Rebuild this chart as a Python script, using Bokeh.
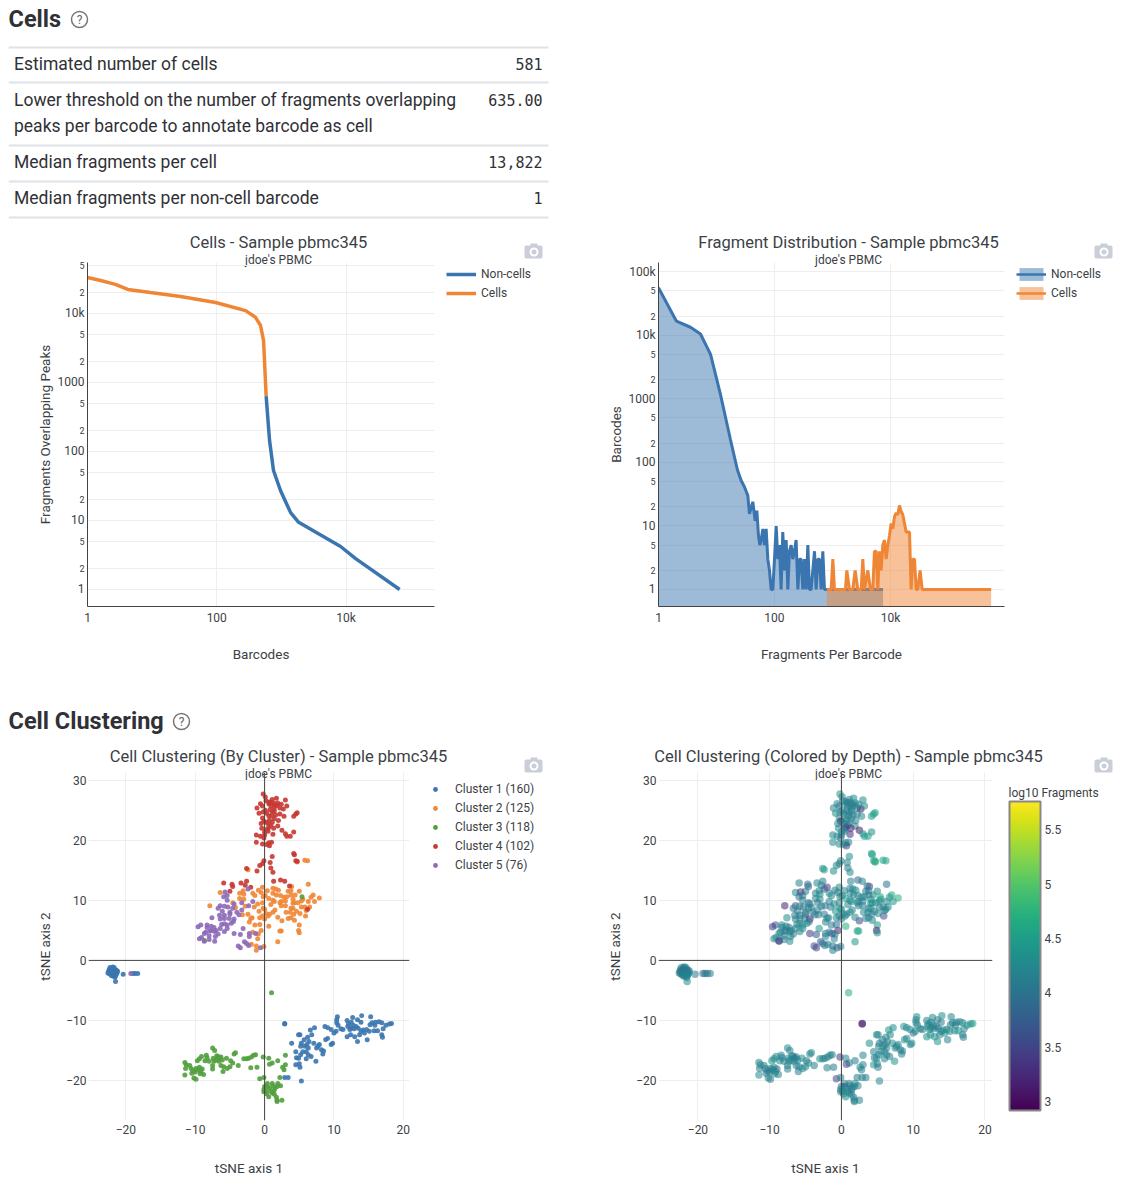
from bokeh.plotting import figure
from bokeh.layouts import column, row
from bokeh.models import (Range1d, FixedTicker, LogAxis, ColumnDataSource, Legend, LegendItem,
                          Span, ColorBar, LinearColorMapper)
from bokeh.palettes import Viridis256
from bokeh.embed import file_html
from bokeh.resources import INLINE

FONT = "Roboto"
TXT = "#3c3f46"
BLUE, ORANGE, GREEN, RED, PURPLE = "#3B75AF", "#EF8636", "#519E3E", "#C53932", "#8D69B8"
NAN = float("nan")

# ---- table
metric_lines = [["Estimated number of cells"],
                ["Lower threshold on the number of fragments overlapping",
                 "peaks per barcode to annotate barcode as cell"],
                ["Median fragments per cell"],
                ["Median fragments per non-cell barcode"]]
metric_values = ["581", "635.00", "13,822", "1"]

# ---- barcode rank plot
rank_cells_x = [1, 1.6, 2.7, 4.2, 9.4, 27.5, 96, 279, 398, 476, 530, 581]
rank_cells_y = [33250, 30000, 26400, 22300, 20100, 17600, 14400, 11000, 8800, 6700, 4050, 635]
rank_non_x = [581, 656, 755, 972, 1390, 1850, 8250, 14100, 67600]
rank_non_y = [635, 144, 53, 27, 13, 9.4, 4.2, 2.8, 1]

# ---- fragment histogram
hist_non_x = [1, 2.04, 3.56, 5.3, 7.9, 11.7, 17.4, 23, 26.6, 30.4, 34.7, 37, 42.3, 46.4, 49.6, 53, 55.9, 58.9, 63,
              67.2, 71.8, 76.7, 82, 87.6, 93.6, 100, 107, 114, 122, 130, 139, 149, 159, 170, 181, 194, 207, 221,
              236, 253, 270, 288, 308, 329, 352, 376, 401, 429, 458, 490, 523, 559, 597, 638, 681, 728, 798, 7450]
hist_non_y = [56000, 16700, 13400, 10500, 5000, 1175, 229, 76, 52, 41, 30, 15.5, 24, 12, 17.5, 7, 5, 6, 9,
              5, 9, 3, 2, 1, 1, 3, 10, 3, 5, 1, 8, 2, 6, 1, 4, 5, 3, 4,
              6, 1, 3, 3, 1, 3, 1, 5, 1, 1, 2, 4, 1, 3, 3, 1, 4, 1, 1, 1]
hist_cell_x = [798, 948, 1014, 1082, 1675, 1766, 1963, 2242, 2460, 2735, 3120, 3334, 3564, 4064, 4519, 4955, 5297,
               5662, 6052, 6457, 6902, 7379, 7889, 8414, 8995, 9616, 10260, 10970, 11720, 12530, 13370, 14290,
               15280, 16330, 17420, 18620, 21280, 22700, 24270, 25940, 27730, 29580, 32430, 35160, 544500]
hist_cell_y = [1, 1, 3, 1, 1, 2, 1, 1, 2, 1, 1, 3, 1, 2, 1, 1, 4,
               4, 1, 4, 2, 5, 6, 3, 5, 7, 11, 9, 14, 16, 15, 21,
               17, 15, 11, 8, 8, 1, 3, 3, 1, 1, 2, 1, 1]

# ---- tSNE points: (axis 1, axis 2, log10 fragments)
cluster1_points = [
 (-21.9,-1.9,4.2),(-22.1,-1.6,4.1),(-21.7,-1.5,4.2),(-22.3,-1.9,4.0),(-21.5,-1.9,4.3),(-22.0,-2.2,4.1),(-21.8,-2.4,4.2),
 (-22.4,-1.5,4.1),(-21.4,-1.6,4.0),(-22.2,-2.3,4.2),(-21.6,-2.3,4.1),(-22.5,-1.8,4.1),(-21.3,-2.1,4.2),(-22.0,-1.3,4.0),
 (-21.7,-1.2,4.1),(-22.3,-1.2,4.2),(-21.9,-2.6,4.1),(-22.1,-2.0,4.0),(-21.8,-1.8,4.1),(-22.2,-1.7,4.2),(-21.6,-1.7,4.0),
 (-21.4,-2.3,4.1),(-22.4,-2.2,4.2),(-21.2,-1.8,4.1),(-22.6,-2.1,4.0),(-21.9,-1.1,4.1),(-22.1,-2.5,4.2),(-21.5,-2.6,4.1),
 (-22.0,-1.7,4.0),(-21.8,-2.1,4.2),(-20.4,-2.3,4.1),(-21.5,-3.5,4.3),(-21.6,-2.8,4.2),(-19.0,-2.2,4.0),(-18.7,-2.2,4.2),(-18.3,-2.2,4.1),
 (2.9,-10.5,3.1),(2.9,-10.6,3.2),(3.9,-13.8,4.3),(4.5,-15.2,4.2),(4.6,-16.2,4.1),(4.9,-16.3,4.3),(5.2,-15.7,4.2),(4.5,-17.4,4.4),
 (5.0,-17.2,4.1),(5.1,-17.8,4.2),(4.9,-12.4,4.3),(5.1,-12.4,4.2),(5.7,-13.2,4.1),(6.2,-12.8,4.3),(6.6,-11.6,4.4),(6.8,-12.4,4.2),
 (7.2,-11.2,4.3),(5.3,-13.8,4.1),(5.2,-14.3,4.2),(5.8,-14.3,4.3),(6.3,-14.6,4.2),(6.0,-15.2,4.1),(5.5,-15.2,4.2),(6.3,-15.7,4.3),
 (6.0,-16.4,4.2),(6.7,-16.0,4.1),(7.1,-13.8,4.3),(7.5,-14.6,4.2),(7.7,-14.3,4.1),(7.9,-14.0,4.3),(7.4,-16.8,4.4),(8.2,-14.9,4.2),
 (8.5,-15.1,4.1),(8.4,-15.6,4.2),(8.8,-13.2,4.3),(9.1,-13.0,4.2),(9.6,-14.0,4.1),(9.8,-13.8,4.3),(8.7,-11.0,4.4),(9.1,-11.2,4.2),
 (9.6,-11.5,4.3),(10.0,-12.1,4.1),(10.3,-11.8,4.2),(10.5,-9.4,4.3),(10.4,-9.9,4.2),(10.4,-10.4,4.1),(10.6,-10.8,4.3),(11.0,-11.4,4.2),
 (11.3,-11.5,4.1),(11.9,-12.7,4.3),(12.4,-12.4,4.4),(11.9,-10.0,4.2),(12.1,-10.6,4.1),(12.5,-10.3,4.2),(12.7,-9.5,4.3),(13.4,-9.9,4.2),
 (13.9,-10.3,4.1),(14.0,-9.2,4.3),(15.3,-9.4,4.2),(12.5,-11.2,4.1),(12.9,-11.4,4.3),(12.3,-11.5,4.2),(13.2,-11.0,4.1),(13.0,-12.7,4.3),
 (13.4,-13.5,4.4),(13.7,-12.4,4.2),(13.9,-11.8,4.1),(14.4,-12.1,4.3),(14.8,-13.2,4.2),(14.7,-11.5,4.1),(15.1,-11.8,4.3),(15.5,-10.4,4.2),
 (15.9,-10.8,4.1),(15.8,-11.7,4.3),(16.3,-11.7,4.4),(16.5,-10.2,4.2),(16.9,-10.4,4.3),(17.1,-11.4,4.2),(16.9,-12.4,4.1),(17.0,-12.8,4.2),
 (17.5,-10.8,4.3),(18.0,-10.6,4.4),(18.3,-10.5,4.5),(2.9,-19.5,4.2),(3.4,-19.5,4.1),(5.3,-20.1,4.2),
 (12.8,-10.8,4.2),(13.5,-11.3,4.1),(12.0,-11.0,4.3),(15.2,-10.7,4.2),(16.0,-10.3,4.1),(14.2,-11.6,4.3),(6.4,-13.5,4.2),(6.1,-14.0,4.1),
]
cluster2_points = [
 (-2.4,15.1,4.5),(5.8,16.7,4.6),(6.2,16.6,4.6),(4.7,16.4,4.5),(6.3,12.7,4.0),(-6.4,11.3,4.3),(-3.6,11.2,4.2),(-3.1,11.6,4.2),
 (-3.0,11.0,4.3),(-0.9,11.7,4.1),(-0.3,12.2,4.3),(-0.5,11.3,4.2),(-1.7,11.2,4.3),(0.1,10.8,4.1),(-0.2,10.6,4.2),(0.4,11.6,4.3),
 (1.2,12.0,4.1),(1.6,11.9,4.2),(2.0,11.7,4.3),(1.2,11.2,4.2),(1.7,10.9,4.1),(2.3,10.8,4.3),(3.4,11.5,4.0),(3.9,12.3,3.4),
 (3.8,11.6,4.2),(5.0,11.5,4.3),(4.4,10.9,4.2),(3.8,10.9,4.1),(7.0,10.9,4.6),(6.7,10.5,4.4),(7.9,10.4,4.7),(7.2,9.8,4.4),
 (6.3,9.8,4.3),(5.5,10.2,4.3),(4.1,10.2,4.4),(4.3,9.6,4.5),(3.0,9.9,4.2),(2.4,9.8,4.1),(2.4,9.1,4.2),(1.4,9.8,4.4),
 (0.6,10.3,4.5),(1.2,10.0,4.3),(-3.6,10.3,4.2),(-3.0,10.2,4.3),(-4.6,9.6,4.1),(-4.2,8.8,4.2),(-7.9,9.1,3.2),(-2.8,9.0,4.2),
 (-1.0,9.4,4.3),(-0.3,9.6,4.2),(-0.2,8.7,4.4),(0.0,8.5,4.3),(1.5,8.4,4.2),(1.2,8.0,4.3),(0.7,7.7,4.1),(0.5,7.4,4.2),
 (-0.3,7.4,4.2),(-0.7,7.1,4.3),(0.0,6.9,4.1),(-2.4,7.7,4.0),(-3.2,7.6,4.2),(-1.8,7.1,4.1),(-2.0,7.0,4.2),(-1.4,5.9,4.1),
 (-0.7,6.0,4.0),(0.6,5.7,4.7),(2.5,6.6,3.5),(3.4,7.0,4.2),(3.8,7.1,4.1),(4.3,6.7,4.2),(3.1,8.0,4.3),(3.7,8.0,4.1),
 (4.2,7.7,4.2),(5.1,7.8,4.3),(5.9,7.4,3.6),(3.8,8.7,4.2),(4.1,8.7,4.3),(5.3,8.9,4.2),(5.8,8.9,4.1),(6.5,8.9,4.3),
 (5.0,5.9,4.4),(4.9,5.0,3.1),(5.0,4.6,4.4),(2.2,4.9,4.6),(2.4,4.9,4.6),(1.9,3.1,4.4),(-0.5,5.0,3.2),(-1.7,4.7,4.2),
 (-0.9,4.4,4.3),(-1.0,3.6,4.2),(-1.9,2.7,4.1),(-1.2,2.4,4.0),(-1.2,1.7,4.2),(-0.1,2.3,4.3),(2.2,9.6,4.2),(4.8,9.6,4.3),
 (5.3,9.9,4.2),(3.0,9.1,4.1),(4.1,9.5,4.3),(-1.4,10.8,4.2),(0.9,9.3,4.2),(2.8,10.5,4.1),(-0.8,8.2,4.3),(1.9,7.2,4.2),
 (-1.5,8.9,4.1),(3.2,10.6,4.2),(4.6,8.2,4.1),(-2.2,6.4,4.2),(0.2,7.8,4.3),(6.0,8.3,4.2),
]
cluster3_points = [
 (1.0,-5.4,4.7),(-11.5,-17.0,4.2),(-11.3,-17.4,4.3),(-11.4,-18.0,4.1),(-11.5,-19.1,4.3),(-10.8,-17.5,4.2),(-10.6,-18.0,4.1),(-10.3,-18.4,4.2),
 (-10.5,-18.8,4.0),(-10.2,-19.6,4.3),(-9.9,-19.8,4.1),(-9.7,-16.7,4.4),(-9.4,-16.4,4.2),(-9.1,-16.0,4.3),(-9.9,-18.0,4.2),(-9.6,-18.2,4.1),
 (-9.4,-17.8,4.2),(-9.0,-18.1,4.0),(-9.2,-18.5,4.1),(-8.8,-19.0,4.2),(-8.6,-16.7,4.3),(-8.3,-16.2,4.2),(-8.4,-15.8,4.1),(-7.5,-14.6,4.3),
 (-7.2,-15.0,4.2),(-7.4,-16.3,4.1),(-7.0,-16.6,4.2),(-7.3,-16.8,4.3),(-7.5,-17.5,4.1),(-7.5,-18.1,4.2),(-6.7,-16.0,4.3),(-6.5,-16.3,4.1),
 (-6.3,-16.1,4.0),(-6.6,-16.8,4.2),(-6.3,-17.5,4.1),(-5.9,-17.7,4.2),(-5.5,-16.3,4.3),(-6.0,-18.5,4.1),(-5.4,-18.0,4.2),(-5.0,-17.7,4.3),
 (-4.9,-16.7,4.1),(-4.6,-17.1,4.2),(-4.4,-15.6,4.2),(-4.2,-15.4,4.3),(-3.8,-17.5,4.1),(-3.0,-16.4,4.3),(-2.6,-16.4,4.2),(-2.3,-16.3,4.1),
 (-1.9,-16.1,4.2),(-1.6,-15.8,4.3),(-1.3,-15.7,4.1),(-2.0,-17.9,4.2),(-1.1,-17.8,4.1),(-0.2,-16.1,3.4),(0.6,-16.3,4.2),(1.9,-16.7,4.1),
 (1.1,-17.1,4.3),(0.7,-17.3,3.5),(3.0,-17.4,4.2),(2.6,-17.8,4.3),(2.8,-18.2,4.1),(3.0,-15.8,4.2),(-0.7,-19.7,3.5),(-0.1,-19.5,4.2),
 (2.2,-19.5,4.1),(0.4,-20.5,4.2),(1.1,-20.5,4.1),(1.9,-20.5,4.3),(2.3,-20.9,4.2),(1.8,-21.0,4.1),(0.0,-21.0,4.2),(0.4,-21.0,3.6),
 (0.7,-21.3,4.2),(1.2,-20.9,4.1),(-0.1,-21.5,4.2),(0.2,-21.8,4.3),(1.4,-21.6,4.1),(-0.1,-21.9,4.2),(0.6,-22.7,4.3),(1.1,-22.1,4.2),
 (1.4,-22.3,4.1),(1.7,-22.8,4.2),(1.8,-23.3,4.3),(2.5,-23.3,4.2),(1.8,-23.5,4.1),(-8.7,3.3,3.3),(5.4,10.6,4.7),
 (-8.0,-16.8,4.2),(-6.9,-15.9,4.1),(-6.1,-16.6,4.2),(-10.0,-18.6,4.1),(-9.3,-18.9,4.3),(0.9,-21.8,4.2),(1.5,-21.2,4.1),(0.3,-22.2,4.2),
]
cluster4_points = [
 (-0.2,27.7,4.4),(0.1,27.2,4.2),(1.7,27.0,4.3),(3.0,26.7,4.3),(1.1,26.8,4.2),(0.7,26.4,4.1),(-0.6,26.1,4.2),(-0.3,25.7,4.1),
 (0.6,26.1,4.2),(1.3,26.2,4.1),(1.9,26.2,4.3),(-1.1,25.4,4.2),(0.9,25.7,4.2),(1.4,25.4,4.1),(2.2,25.4,4.3),(2.7,25.2,3.1),
 (3.2,25.7,4.3),(-0.2,24.7,4.2),(0.1,25.0,4.1),(1.1,24.7,4.3),(1.4,24.9,4.2),(4.7,24.6,4.6),(4.5,24.4,4.5),(4.2,24.0,4.5),
 (2.2,24.4,4.1),(2.8,24.0,4.3),(0.6,24.1,4.2),(1.0,24.1,4.1),(-0.3,23.7,4.3),(0.7,23.4,4.2),(1.4,23.6,4.1),(-0.1,23.2,3.0),
 (1.1,23.0,4.2),(0.5,22.8,4.3),(0.9,22.5,4.1),(1.9,22.4,4.2),(-0.4,22.0,4.3),(0.4,21.9,3.6),(0.6,22.2,3.5),(2.5,21.7,3.1),
 (1.3,22.0,3.2),(0.0,21.4,4.2),(3.0,21.1,4.4),(4.2,21.4,4.3),(3.2,20.7,4.4),(3.7,20.7,4.5),(1.2,21.0,3.3),(-1.2,20.9,4.2),
 (-0.6,20.7,4.3),(0.0,20.9,4.2),(-0.1,20.4,4.1),(-1.2,19.7,4.3),(-0.3,19.4,4.2),(0.6,19.6,4.1),(1.0,19.7,4.3),(0.7,19.1,3.4),
 (4.2,17.8,4.5),(4.3,17.6,4.5),(1.1,17.3,4.3),(-0.1,16.6,4.2),(4.5,16.6,4.6),(4.7,16.5,4.7),(0.8,16.3,4.2),(-0.7,15.8,4.3),
 (-0.3,16.1,4.2),(-2.6,15.3,4.4),(0.9,15.4,4.1),(-1.1,14.9,4.3),(1.2,14.7,4.3),(-5.9,12.9,4.2),(-4.7,12.7,4.0),(-4.6,12.3,3.9),
 (-3.4,12.9,4.2),(-2.6,13.2,4.1),(-2.8,12.5,4.3),(-2.0,12.2,3.4),(1.3,13.2,4.2),(2.3,13.4,3.9),(2.9,13.2,4.2),(3.6,12.4,4.0),
 (-5.0,11.5,4.1),(6.2,8.5,4.2),(0.3,24.5,4.2),(1.6,24.2,4.1),(0.2,23.0,4.2),(1.8,25.8,4.2),(-0.8,24.5,4.3),(0.8,25.1,4.1),
 (2.0,23.3,4.2),(0.5,21.5,4.2),(0.2,26.6,4.1),(2.4,26.0,4.2),(-0.5,22.8,4.2),(0.3,19.3,4.3),(1.5,25.9,4.1),(0.9,26.3,4.2),
]
cluster5_points = [
 (-5.7,11.4,3.3),(-2.4,11.9,3.7),(-5.9,10.6,3.9),(-5.4,10.8,4.0),(-5.4,10.0,4.1),(-4.4,9.4,4.0),(-6.4,9.1,3.8),(-6.7,8.7,4.0),
 (-5.8,9.0,4.1),(-5.3,8.9,4.0),(-4.6,8.7,4.2),(-3.3,9.6,4.1),(-2.3,9.1,4.0),(-1.7,9.8,4.2),(-3.3,8.4,4.1),(-3.7,7.6,4.0),
 (-5.0,8.0,4.1),(-6.5,7.5,4.2),(-5.8,7.5,4.1),(-5.0,7.7,4.0),(-7.6,7.1,4.3),(-6.4,6.9,4.1),(-5.8,7.0,4.2),(-5.1,7.0,4.1),
 (-4.4,6.9,3.2),(-4.5,6.5,4.1),(-5.8,6.1,4.2),(-5.4,5.9,4.3),(-9.2,5.9,3.7),(-9.6,5.6,3.4),(-8.3,5.9,4.2),(-7.7,5.7,4.1),
 (-8.3,5.5,4.2),(-7.3,5.5,4.1),(-6.4,5.3,4.2),(-5.4,5.3,4.3),(-3.1,5.3,4.4),(-8.5,4.7,4.2),(-7.7,5.0,4.1),(-7.0,5.0,4.2),
 (-7.2,4.8,4.1),(-8.7,4.5,4.3),(-5.8,4.8,4.2),(-8.0,4.1,4.1),(-6.7,4.4,4.2),(-4.4,4.5,3.4),(-3.5,4.3,3.7),(-2.2,4.5,4.1),
 (-1.3,4.5,3.6),(-2.2,4.0,4.2),(-9.1,3.8,4.3),(-9.4,3.6,4.2),(-7.1,4.0,4.1),(-8.0,3.5,4.2),(-7.2,3.2,4.3),(-8.7,3.2,3.5),
 (-2.9,3.1,3.7),(-2.6,2.8,4.0),(-2.3,2.5,4.1),(-3.8,2.4,3.7),(-3.5,2.1,3.5),(-0.6,2.1,3.8),(-19.3,-2.2,3.9),(-6.1,8.2,4.1),
 (-4.8,6.2,4.2),(-7.9,4.9,4.1),(-6.2,6.0,4.2),(-4.0,8.0,4.1),
]

cluster_names = ["Cluster 1 (160)", "Cluster 2 (125)", "Cluster 3 (118)", "Cluster 4 (102)", "Cluster 5 (76)"]
cluster_sets = [cluster1_points, cluster2_points, cluster3_points, cluster4_points, cluster5_points]
cluster_colors = [BLUE, ORANGE, GREEN, RED, PURPLE]

rank_x_ticks = {1: "1", 100: "100", 10000: "10k"}
rank_y_ticks = {1: "1", 10: "10", 100: "100", 1000: "1000", 10000: "10k"}
hist_y_ticks = {1: "1", 10: "10", 100: "100", 1000: "1000", 10000: "10k", 100000: "100k"}
rank_small = {2: "2", 5: "5", 20: "2", 50: "5", 200: "2", 500: "5", 2000: "2", 5000: "5", 20000: "2", 50000: "5"}
tsne_x_ticks = {-20: "\u221220", -10: "\u221210", 0: "0", 10: "10", 20: "20"}
tsne_y_ticks = {-20: "\u221220", -10: "\u221210", 0: "0", 10: "10", 20: "20", 30: "30"}
depth_ticks = [3, 3.5, 4, 4.5, 5, 5.5]


def strip_text(p, x, y, t, size, align="center", style="normal", font=FONT, color=TXT):
    p.text(x=[x], y=[y], text=[t], text_font={"value": font}, text_font_size=size, text_align=align,
           text_baseline="middle", text_font_style=style, text_color=color)


def camera(p, cx, cy):
    c = "#c9ced8"
    p.quad(left=[cx - 9], right=[cx + 9], top=[cy - 6], bottom=[cy + 7], fill_color=c, line_color=None, border_radius=2)
    p.quad(left=[cx - 3], right=[cx + 4], top=[cy - 8], bottom=[cy - 5], fill_color=c, line_color=None)
    p.scatter(x=[cx + 0.5], y=[cy + 0.5], size=9, fill_color="white", line_color=None)
    p.scatter(x=[cx + 0.5], y=[cy + 0.5], size=5, fill_color=c, line_color=None)


def help_icon(p, x, y):
    p.scatter(x=[x], y=[y], size=16, fill_color=None, line_color="#777777", line_width=1.5)
    strip_text(p, x, y, "?", "12px", color="#666666")


def strip_fig(h, overlap, headroom=0):
    """Sheet lying under the transparent plots: titles, legends and icons live here."""
    p = figure(width=1108, height=h + headroom, x_range=Range1d(0, 1108), y_range=Range1d(h, -headroom),
               output_backend="svg", toolbar_location=None, outline_line_color=None, min_border=0,
               margin=(0, 0, -overlap, 0))
    p.axis.visible = False
    p.grid.visible = False
    return p


def style_axis(a):
    a.major_tick_line_color = None
    a.minor_tick_line_color = None
    a.major_tick_out = 0
    a.major_tick_in = 0
    a.minor_tick_out = 0
    a.minor_tick_in = 0
    a.major_label_text_font = FONT
    a.major_label_text_font_size = "12px"
    a.major_label_text_color = TXT
    a.axis_line_color = "#444444"
    a.major_label_standoff = 4
    a.axis_label_text_font = FONT
    a.axis_label_text_font_size = "13.5px"
    a.axis_label_text_color = TXT
    a.axis_label_text_font_style = "normal"


def base_fig(xr, yr, size, borders, x_log=False, y_log=False):
    p = figure(frame_width=size[0], frame_height=size[1], min_border_left=borders[0], min_border_right=borders[1],
               min_border_top=borders[2], min_border_bottom=borders[3], x_range=xr, y_range=yr,
               x_axis_type="log" if x_log else "linear", y_axis_type="log" if y_log else "linear",
               output_backend="svg", toolbar_location=None, outline_line_color=None,
               background_fill_alpha=0, border_fill_alpha=0)
    style_axis(p.xaxis[0])
    style_axis(p.yaxis[0])
    p.xgrid.grid_line_color = "#eeeeee"
    p.ygrid.grid_line_color = "#eeeeee"
    return p


def log_fig(xr, yr, size, borders, y_ticks, xlabel, ylabel, lab_standoff):
    p = base_fig(xr, yr, size, borders, True, True)
    p.xaxis[0].ticker = FixedTicker(ticks=list(rank_x_ticks))
    p.xaxis[0].major_label_overrides = rank_x_ticks
    p.xaxis[0].axis_label = xlabel
    p.xaxis[0].axis_label_standoff = 18
    # small 2 / 5 labels on the axis next to the frame, the decade labels on a second one
    p.yaxis[0].ticker = FixedTicker(ticks=list(rank_small))
    p.yaxis[0].major_label_overrides = rank_small
    p.yaxis[0].major_label_text_font_size = "9px"
    p.yaxis[0].major_label_standoff = 3
    big = LogAxis(ticker=FixedTicker(ticks=list(y_ticks)), major_label_overrides=y_ticks, axis_label=ylabel)
    style_axis(big)
    big.axis_line_color = None
    big.major_label_standoff = -8
    big.axis_label_standoff = lab_standoff
    p.add_layout(big, "left")
    p.xgrid[0].ticker = FixedTicker(ticks=list(rank_x_ticks)[1:])
    p.ygrid[0].ticker = FixedTicker(ticks=list(y_ticks) + list(rank_small))
    return p


def make_legend(names, renderers, location, glyph_w=30, glyph_h=16, standoff=5):
    return Legend(items=[LegendItem(label=n, renderers=[*r]) for n, r in zip(names, renderers)], location=location,
                  orientation="vertical", label_text_font=FONT, label_text_font_size="12px", label_text_color=TXT,
                  border_line_color=None, background_fill_alpha=0, padding=0, margin=0, spacing=3, label_height=16,
                  glyph_height=glyph_h, glyph_width=glyph_w, label_standoff=standoff)


# ---- sheet 1: page y from 0 to 308, x coordinates are page minus 8, y coordinates are page minus 8
h1 = strip_fig(300, 52, headroom=8)
strip_text(h1, 0, 10, "Cells", "23.5px", "left", "bold", color="#2f3136")
help_icon(h1, 71, 11)
rule_y = [39, 74, 137, 173, 209]
h1.segment(x0=[0] * 5, x1=[540] * 5, y0=rule_y, y1=rule_y, line_color="#dfe2e6", line_width=2)
row_y = [[55], [91, 117], [153], [189]]
for lines, ys, v in zip(metric_lines, row_y, metric_values):
    for t, y in zip(lines, ys):
        strip_text(h1, 5.5, y, t, "17.5px", "left", color="#2f3136")
    strip_text(h1, 534, ys[0], v, "15px", "right", font="DejaVu Sans Mono", color="#2f3136")
strip_text(h1, 270, 234, "Cells - Sample pbmc345", "16.5px")
strip_text(h1, 270, 251, "jdoe's PBMC", "12px")
camera(h1, 525, 243)
strip_text(h1, 840, 234, "Fragment Distribution - Sample pbmc345", "16.5px")
strip_text(h1, 840, 251, "jdoe's PBMC", "12px")
camera(h1, 1095, 243)
k_non = h1.line([NAN], [NAN], line_color=BLUE, line_width=3.5)
k_cell = h1.line([NAN], [NAN], line_color=ORANGE, line_width=3.5)
h1.add_layout(make_legend(["Non-cells", "Cells"], [[k_non], [k_cell]], (438, 7)), "center")
k_fn = h1.quad(left=[NAN], right=[NAN], top=[NAN], bottom=[NAN], fill_color=BLUE, fill_alpha=0.5, line_color=None)
k_ln = h1.line([NAN], [NAN], line_color=BLUE, line_width=2.5)
k_fc = h1.quad(left=[NAN], right=[NAN], top=[NAN], bottom=[NAN], fill_color=ORANGE, fill_alpha=0.5, line_color=None)
k_lc = h1.line([NAN], [NAN], line_color=ORANGE, line_width=2.5)
h1.add_layout(make_legend(["Non-cells", "Cells"], [[k_fn, k_ln], [k_fc, k_lc]], (1008, 7)), "center")

# ---- barcode rank
p1 = log_fig(Range1d(1, 234000), Range1d(0.567, 54800), (347, 344), (79, 129, 6, 84), rank_y_ticks,
             "Barcodes", "Fragments Overlapping Peaks", 2)
p1.line(rank_non_x, rank_non_y, line_color=BLUE, line_width=3.5)
p1.line(rank_cells_x, rank_cells_y, line_color=ORANGE, line_width=3.5)

# ---- fragment histogram
floor2 = 0.54
p2 = log_fig(Range1d(1, 925000), Range1d(floor2, 140000), (346, 344), (95, 112, 6, 84), hist_y_ticks,
             "Fragments Per Barcode", "Barcodes", 2)
p2.varea(x=hist_non_x, y1=[floor2] * len(hist_non_x), y2=hist_non_y, fill_color=BLUE, fill_alpha=0.5)
p2.line(hist_non_x, hist_non_y, line_color=BLUE, line_width=3)
p2.varea(x=hist_cell_x, y1=[floor2] * len(hist_cell_x), y2=hist_cell_y, fill_color=ORANGE, fill_alpha=0.5)
p2.line(hist_cell_x, hist_cell_y, line_color=ORANGE, line_width=3)

# ---- sheet 2: page y from 690 to 880
h2 = strip_fig(190, 114)
strip_text(h2, 0, 30, "Cell Clustering", "23.5px", "left", "bold", color="#2f3136")
help_icon(h2, 173, 31)
strip_text(h2, 270, 66, "Cell Clustering (By Cluster) - Sample pbmc345", "16.5px")
strip_text(h2, 270, 83, "jdoe's PBMC", "12px")
camera(h2, 525, 75)
strip_text(h2, 840, 66, "Cell Clustering (Colored by Depth) - Sample pbmc345", "16.5px")
strip_text(h2, 840, 83, "jdoe's PBMC", "12px")
camera(h2, 1095, 75)
strip_text(h2, 1000, 102, "log10 Fragments", "12px", "left")
keys = [[h2.scatter([NAN], [NAN], size=5, fill_color=c, line_color=None)] for c in cluster_colors]
h2.add_layout(make_legend(cluster_names, keys, (417, 7), glyph_w=20, glyph_h=12, standoff=10), "center")


def tsne_fig(xr, yr, size, borders):
    p = base_fig(xr, yr, size, borders)
    p.xaxis[0].axis_line_color = None
    p.yaxis[0].axis_line_color = None
    p.xaxis[0].ticker = FixedTicker(ticks=list(tsne_x_ticks))
    p.xaxis[0].major_label_overrides = tsne_x_ticks
    p.yaxis[0].ticker = FixedTicker(ticks=list(tsne_y_ticks))
    p.yaxis[0].major_label_overrides = tsne_y_ticks
    p.yaxis[0].major_label_standoff = 2
    p.xgrid[0].ticker = FixedTicker(ticks=list(tsne_x_ticks))
    p.ygrid[0].ticker = FixedTicker(ticks=list(tsne_y_ticks))
    p.xaxis[0].axis_label = "tSNE axis 1"
    p.yaxis[0].axis_label = "tSNE axis 2"
    p.xaxis[0].axis_label_standoff = 23
    p.yaxis[0].axis_label_standoff = 10
    p.add_layout(Span(location=0, dimension="height", line_color="#444444", line_width=1))
    p.add_layout(Span(location=0, dimension="width", line_color="#444444", line_width=1))
    return p


# ---- clusters
p3 = tsne_fig(Range1d(-25.4, 20.9), Range1d(-26.67, 31.3), (321, 348), (80, 154, 6, 62))
for pts, col in zip(cluster_sets, cluster_colors):
    p3.scatter([q[0] for q in pts], [q[1] for q in pts], size=5, fill_color=col, line_color=None, fill_alpha=0.9)

# ---- depth
p4 = tsne_fig(Range1d(-25.5, 21.06), Range1d(-26.67, 31.3), (334, 348), (95, 124, 6, 62))
mapper = LinearColorMapper(palette=Viridis256, low=2.92, high=5.76)
all_pts = [q for pts in cluster_sets for q in pts]
src4 = ColumnDataSource(dict(x=[q[0] for q in all_pts], y=[q[1] for q in all_pts], d=[q[2] for q in all_pts]))
p4.scatter("x", "y", source=src4, size=7.5, fill_color={"field": "d", "transform": mapper}, line_color=None,
           fill_alpha=0.55)
cb = ColorBar(color_mapper=mapper, ticker=FixedTicker(ticks=depth_ticks), width=31, height=309, location=(351, 10),
              padding=0, major_tick_line_color=None, minor_tick_line_color=None, bar_line_color="#888888",
              bar_line_width=2, major_label_text_font=FONT, major_label_text_font_size="12px",
              major_label_text_color=TXT, background_fill_alpha=0, label_standoff=4)
p4.add_layout(cb, "center")

page = column(h1, row(p1, p2, spacing=0), h2, row(p3, p4, spacing=0), spacing=0, margin=(0, 0, 0, 8))
open("out.html", "w").write(file_html(page, INLINE))
